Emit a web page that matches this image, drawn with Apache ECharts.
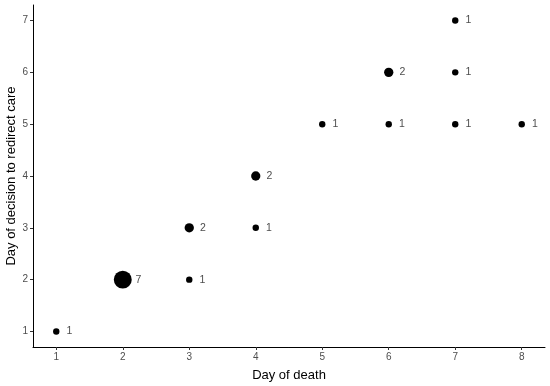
<!DOCTYPE html>
<html><head><meta charset="utf-8">
<script src="https://cdn.jsdelivr.net/npm/echarts@6/dist/echarts.min.js"></script>
<style>html,body{margin:0;padding:0;background:#fff}#c{width:550px;height:386px}</style>
</head><body><div id="c"></div>
<script>
var dayOfDeath = [1, 2, 3, 3, 4, 4, 5, 6, 6, 7, 7, 7, 8];
var dayOfDecision = [1, 2, 2, 3, 3, 4, 5, 5, 6, 5, 6, 7, 5];
var counts = [1, 7, 1, 2, 1, 2, 1, 1, 2, 1, 1, 1, 1];
var xTicks = [1, 2, 3, 4, 5, 6, 7, 8];
var yTicks = [1, 2, 3, 4, 5, 6, 7];

function sizeOf(n) { return 7 * Math.sqrt(n) - 0.6; }
var data = dayOfDeath.map(function (x, i) {
  var r = sizeOf(counts[i]) / 2;
  return {value: [x, dayOfDecision[i], counts[i]], label: {offset: [11.8 + r * 0.42, 0]}};
});
var font = 'Liberation Sans, Arial, Helvetica, sans-serif';
var chart = echarts.init(document.getElementById('c'), null, {renderer: 'canvas'});
chart.setOption({
  animation: false,
  grid: {left: 33, right: 5, top: 5, bottom: 39, containLabel: false, outerBoundsMode: 'none'},
  xAxis: {
    type: 'value', min: 0.65, max: 8.35,
    name: 'Day of death', nameLocation: 'middle', nameGap: 22, nameMoveOverlap: false,
    nameTextStyle: {color: '#000', fontSize: 13, fontFamily: font},
    axisLine: {show: true, lineStyle: {color: '#000', width: 1}},
    axisTick: {show: true, length: 3, lineStyle: {color: '#333'}, customValues: xTicks},
    axisLabel: {color: '#4d4d4d', fontSize: 10, fontFamily: font, margin: 5, customValues: xTicks, showMinLabel: true, showMaxLabel: true},
    splitLine: {show: false}
  },
  yAxis: {
    type: 'value', min: 0.7, max: 7.3,
    name: 'Day of decision to redirect care', nameLocation: 'middle', nameGap: 15, nameMoveOverlap: false,
    nameTextStyle: {color: '#000', fontSize: 13, fontFamily: font},
    axisLine: {show: true, lineStyle: {color: '#000', width: 1}},
    axisTick: {show: true, length: 3, lineStyle: {color: '#333'}, customValues: yTicks},
    axisLabel: {color: '#4d4d4d', fontSize: 10, fontFamily: font, margin: 5, customValues: yTicks},
    splitLine: {show: false}
  },
  series: [{
    type: 'scatter',
    data: data,
    symbolSize: function (v) { return sizeOf(v[2]); },
    itemStyle: {color: '#000', opacity: 1},
    label: {
      show: true, position: 'inside',
      formatter: function (p) { return p.value[2]; },
      color: '#4d4d4d', fontSize: 10.5, fontFamily: font
    }
  }]
});
</script></body></html>
